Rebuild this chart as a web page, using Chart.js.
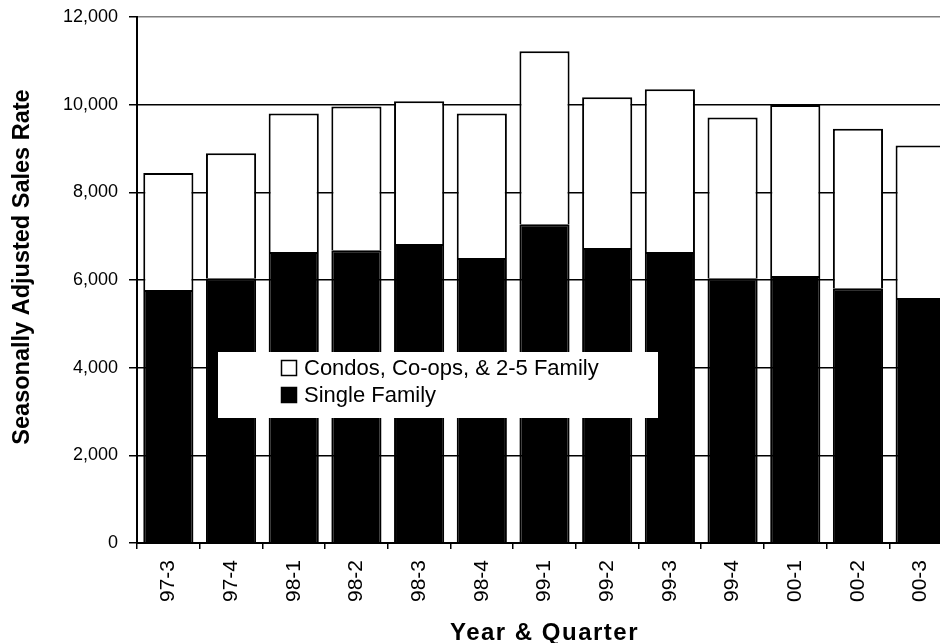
<!DOCTYPE html>
<html>
<head>
<meta charset="utf-8">
<script src="https://cdn.jsdelivr.net/npm/chart.js@4/dist/chart.umd.min.js"></script>
<style>
  html, body { margin: 0; padding: 0; background: #fff; overflow: hidden; }
  #wrap { width: 952px; height: 643px; }
</style>
</head>
<body>
<div id="wrap"><canvas id="c" width="952" height="643"></canvas></div>
<script>
// Quarterly sales, seasonally adjusted
const quarters = ['97-3', '97-4', '98-1', '98-2', '98-3', '98-4', '99-1', '99-2', '99-3', '99-4', '00-1', '00-2', '00-3'];
const singleFamily = [5770, 6040, 6640, 6680, 6820, 6500, 7270, 6730, 6640, 6040, 6090, 5810, 5590];
const condosCoops = [2670, 2850, 3160, 3280, 3260, 3300, 3950, 3440, 3710, 3670, 3900, 3640, 3480];
const yTicks = [0, 2000, 4000, 6000, 8000, 10000, 12000];

const FONT = "'Liberation Sans', Arial, sans-serif";

// Legend box drawn over the plot, plus both axis titles
const overlay = {
  id: 'overlay',
  afterDatasetsDraw(chart) {
    const ctx = chart.ctx;
    ctx.save();
    ctx.fillStyle = '#fff';
    ctx.fillRect(218, 352, 440, 66);
    const items = [chart.data.datasets[1], chart.data.datasets[0]];
    ctx.font = '22px ' + FONT;
    ctx.textBaseline = 'middle';
    ctx.textAlign = 'left';
    items.forEach((ds, i) => {
      const y = 368 + i * 27;
      ctx.fillStyle = ds.backgroundColor;
      ctx.fillRect(281.5, y - 7.5, 15, 15);
      ctx.strokeStyle = '#000';
      ctx.lineWidth = 1.5;
      ctx.strokeRect(281.5, y - 7.5, 15, 15);
      ctx.fillStyle = '#000';
      ctx.fillText(ds.label, 304, y + 1);
    });
    ctx.restore();
  },
  afterDraw(chart) {
    const ctx = chart.ctx;
    const area = chart.chartArea;
    ctx.save();
    ctx.fillStyle = '#000';
    ctx.textAlign = 'center';
    ctx.textBaseline = 'alphabetic';
    ctx.font = 'bold 24px ' + FONT;
    ctx.letterSpacing = '1.5px';
    ctx.fillText('Year & Quarter', (area.left + area.right) / 2, 640);
    ctx.letterSpacing = '0px';
    ctx.font = 'bold 23.5px ' + FONT;
    ctx.translate(29, 267);
    ctx.rotate(-Math.PI / 2);
    ctx.fillText('Seasonally Adjusted Sales Rate', 0, 0);
    ctx.restore();
  }
};

new Chart(document.getElementById('c'), {
  type: 'bar',
  data: {
    labels: quarters,
    datasets: [
      { label: 'Single Family', data: singleFamily, backgroundColor: '#000000', borderColor: '#000', borderWidth: 2 },
      { label: 'Condos, Co-ops, & 2-5 Family', data: condosCoops, backgroundColor: '#ffffff', borderColor: '#000', borderWidth: 2 }
    ]
  },
  options: {
    responsive: false,
    animation: false,
    events: [],
    layout: { padding: { top: 17, left: 0, right: 0, bottom: 0 } },
    datasets: { bar: { barPercentage: 0.8, categoryPercentage: 1.0 } },
    plugins: { legend: { display: false }, tooltip: { enabled: false }, title: { display: false } },
    scales: {
      x: {
        stacked: true,
        offset: true,
        afterFit(s) { s.height = 100; s.paddingLeft = 0; s.paddingRight = 0; },
        border: { display: true, color: '#000', width: 2 },
        grid: { display: true, drawOnChartArea: false, drawTicks: true, tickLength: 6, color: '#000', lineWidth: 1.5, offset: true },
        ticks: { color: '#000', font: { family: FONT, size: 21 }, minRotation: 90, maxRotation: 90, padding: 11, autoSkip: false }
      },
      y: {
        stacked: true,
        min: 0,
        max: 12000,
        afterFit(s) { s.width = 137; s.paddingTop = 0; s.paddingBottom = 0; },
        afterBuildTicks(s) { s.ticks = yTicks.map(v => ({ value: v })); },
        border: { display: true, color: '#000', width: 2 },
        grid: {
          color: c => (c.tick && c.tick.value === 12000) ? '#808080' : '#000',
          lineWidth: 1.5,
          tickLength: 8,
          tickColor: '#000'
        },
        ticks: {
          color: '#000',
          font: { family: FONT, size: 18 },
          padding: 11,
          callback: v => v.toLocaleString('en-US')
        }
      }
    }
  },
  plugins: [overlay]
});
</script>
</body>
</html>
